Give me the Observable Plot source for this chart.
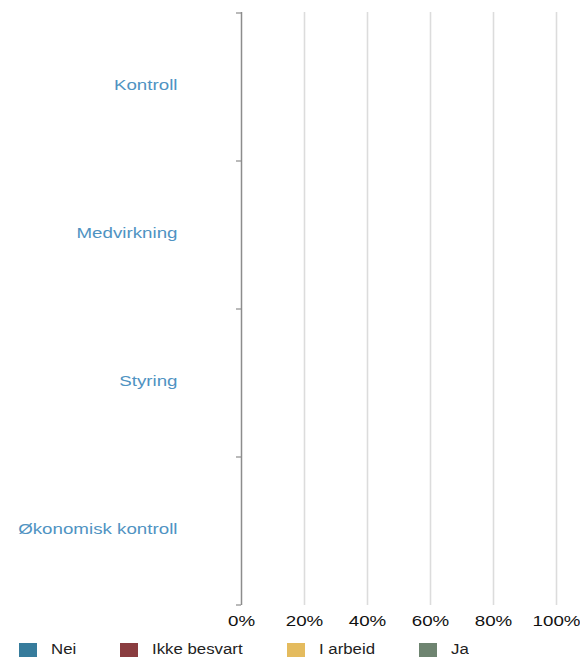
<!DOCTYPE html>
<html>
<head>
<meta charset="utf-8">
<script src="https://cdn.jsdelivr.net/npm/d3@7"></script>
<script src="https://cdn.jsdelivr.net/npm/@observablehq/plot@0.6"></script>
<style>
  body { margin: 0; background: #fff; font-family: "Liberation Sans", Arial, sans-serif; }
  #legend { display: flex; gap: 44px; margin-left: 19px; padding-top: 6px; font-size: 14px; line-height: 15px; color: #222; }
  .item { display: flex; align-items: center; gap: 14px; }
  .sw { width: 18px; height: 14px; display: inline-block; }
  .lt { display: inline-block; transform: scaleX(1.2); transform-origin: left center; white-space: nowrap; }
</style>
</head>
<body>
<div id="chart"></div>
<div id="legend"></div>
<script>
const categories = ["Kontroll", "Medvirkning", "Styring", "Økonomisk kontroll"];
const answers = ["Nei", "Ikke besvart", "I arbeid", "Ja"];
const colors = ["#377c9c", "#8a3d40", "#e4bb5e", "#6e8470"];
// shares per category (no responses shown in the chart)
const nei = [0, 0, 0, 0];
const ikkeBesvart = [0, 0, 0, 0];
const iArbeid = [0, 0, 0, 0];
const ja = [0, 0, 0, 0];
const xTicks = [0, 0.2, 0.4, 0.6, 0.8, 1];

const series = [nei, ikkeBesvart, iArbeid, ja];
const data = [];
categories.forEach((c, i) => answers.forEach((a, j) => data.push({category: c, answer: a, value: series[j][i]})));

function bandTicks(index, scales, values, dimensions) {
  const y = scales.y;
  const bw = y.bandwidth ? y.bandwidth() : (dimensions.height - dimensions.marginTop - dimensions.marginBottom) / categories.length;
  const x0 = scales.x(0);
  const ys = categories.map(c => y(c)).concat([y(categories[categories.length - 1]) + bw]);
  const g = d3.create("svg:g");
  g.selectAll("line").data(ys).join("line")
    .attr("x1", x0 - 5).attr("x2", x0)
    .attr("y1", d => d).attr("y2", d => d)
    .attr("stroke", "#8c8c8c").attr("stroke-width", 1.2);
  return g.node();
}

const chart = Plot.plot({
  width: 580,
  height: 636,
  marginTop: 12,
  marginBottom: 31,
  marginLeft: 241,
  marginRight: 24,
  style: {fontFamily: "Liberation Sans, Arial, sans-serif", fontSize: "15px", background: "#fff"},
  x: {domain: [0, 1]},
  y: {domain: categories, padding: 0},
  color: {domain: answers, range: colors},
  marks: [
    Plot.ruleX(xTicks.slice(1), {stroke: "#dcdcdc", strokeWidth: 1.6}),
    Plot.barX(data, Plot.stackX({x: "value", y: "category", fill: "answer", order: answers})),
    Plot.ruleX([0], {stroke: "#8c8c8c", strokeWidth: 1.5}),
    bandTicks,
    Plot.axisX({ticks: xTicks, tickSize: 0, tickPadding: 10, tickFormat: d3.format(".0%"), fontSize: 15, fill: "#111", label: null}),
    Plot.axisY({tickSize: 0, tickPadding: 64, dy: -2, fontSize: 15, fill: "#4f93c2", label: null})
  ]
});
document.getElementById("chart").appendChild(chart);

// horizontally widened lettering, as in the reference (vertical attributes untouched)
d3.select(chart).selectAll("g[aria-label*='tick label'] text").each(function () {
  const t = d3.select(this);
  const tr = t.attr("transform") || "";
  const xa = t.attr("x");
  const x = xa && !/em$/.test(xa) ? +xa || 0 : 0;
  if (xa && !/em$/.test(xa)) t.attr("x", null);
  t.attr("transform", `${tr} translate(${x},0) scale(1.25,1)`);
});

const legend = d3.select("#legend");
answers.forEach((a, i) => {
  const it = legend.append("div").attr("class", "item");
  it.append("span").attr("class", "sw").style("background", colors[i]);
  const s = it.append("span").attr("class", "lt").text(a);
  const n = s.node();
  n.style.marginRight = (n.offsetWidth * 0.2) + "px";
});
</script>
</body>
</html>
